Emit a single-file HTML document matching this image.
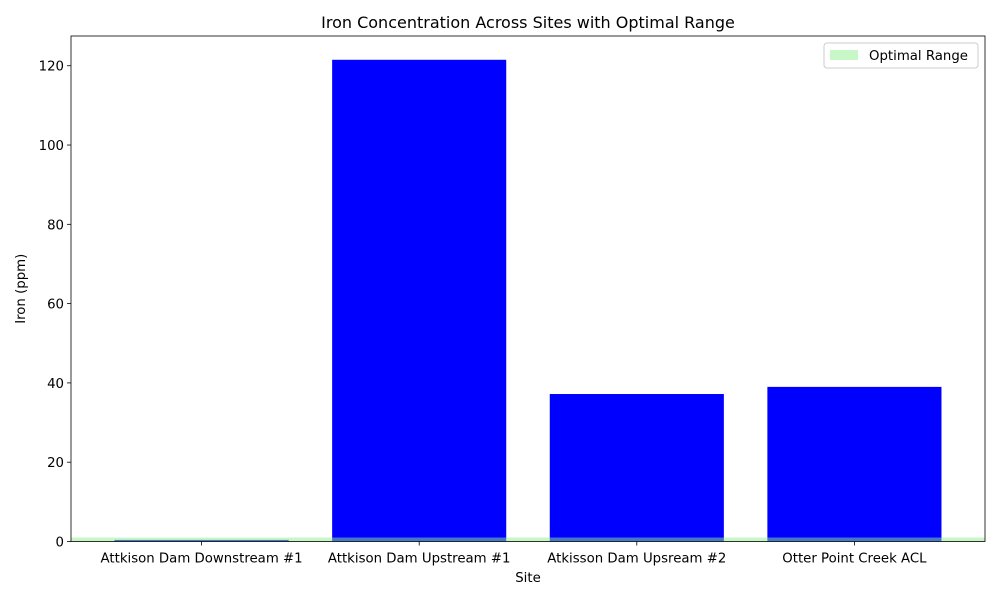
<!DOCTYPE html>
<html><head><meta charset="utf-8"><style>body{margin:0;background:#fff}svg{font-family:"DejaVu Sans","Liberation Sans",sans-serif}</style></head><body>
<svg id="c" width="1000" height="600" xmlns="http://www.w3.org/2000/svg"></svg>
<script>
const categories=["Attkison Dam Downstream #1","Attkison Dam Upstream #1","Atkisson Dam Upsream #2","Otter Point Creek ACL"];
const ironValues=[0.4,121.5,37.2,39.0];
const yTicks=[0,20,40,60,80,100,120];
const optimalRange=[0,1];
const L=71,R=985,T=36,B=541.5,yMax=127.5;
const svg=document.getElementById('c');
const NS='http://www.w3.org/2000/svg';
function y(v){return B-(v/yMax)*(B-T);}
const step=(R-L)/(categories.length+0.2);
function xc(i){return L+step*(0.6+i);}
const bw=step*0.8;
function mk(t,a,p){const e=document.createElementNS(NS,t);for(const k in a)e.setAttribute(k,a[k]);(p||svg).appendChild(e);return e;}
function tx(s,a){const e=mk('text',a);e.textContent=s;return e;}
let e=mk('rect',{x:0,y:0,width:1000,height:600,fill:'#fff'});


categories.forEach((c,i)=>{
  const r=mk('rect',{x:xc(i)-bw/2,y:y(ironValues[i]),width:bw,height:B-y(ironValues[i]),fill:'#0000ff'});
  
  
  const t=mk('line',{x1:xc(i),x2:xc(i),y1:B,y2:B+4,stroke:'#000','stroke-width':0.8});
  
  
  const l=tx(c,{x:xc(i),y:B+21,'text-anchor':'middle','font-size':13.3});
  
  
});
e=mk('rect',{x:L,y:y(optimalRange[1]),width:R-L,height:y(optimalRange[0])-y(optimalRange[1]),fill:'#90ee90','fill-opacity':0.5});


yTicks.forEach(v=>{
  const t=mk('line',{x1:L-4,x2:L,y1:y(v),y2:y(v),stroke:'#000','stroke-width':0.8});
  
  
  const l=tx(String(v),{x:L-7,y:y(v)+5,'text-anchor':'end','font-size':13.3});
  
  
});
e=mk('rect',{x:L,y:T,width:R-L,height:B-T,fill:'none',stroke:'#000','stroke-width':0.8});


e=tx('Iron Concentration Across Sites with Optimal Range',{x:(L+R)/2,y:28,'text-anchor':'middle','font-size':16});


e=tx('Site',{x:(L+R)/2,y:582,'text-anchor':'middle','font-size':13.3});


e=tx('Iron (ppm)',{x:0,y:0,'text-anchor':'middle','font-size':13.3,transform:'translate(25,'+((T+B)/2)+') rotate(-90)'});


const g=mk('g',{});


mk('rect',{x:824,y:43,width:154,height:25,rx:3,fill:'#fff',stroke:'#ccc'},g);
mk('rect',{x:830,y:50,width:28,height:10,fill:'#90ee90','fill-opacity':0.5},g);
e=tx('Optimal Range',{x:869,y:60,'font-size':13.3});
g.appendChild(e);


</script>
</body></html>
